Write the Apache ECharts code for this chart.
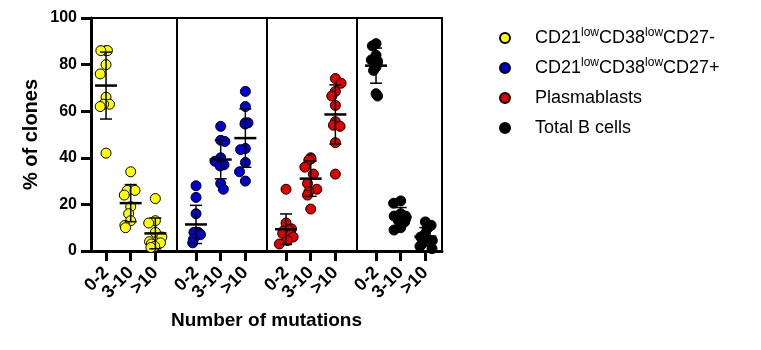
<!DOCTYPE html>
<html>
<head>
<meta charset="utf-8">
<script src="https://cdn.jsdelivr.net/npm/echarts@6/dist/echarts.min.js"></script>
<style>
html, body { margin: 0; padding: 0; background: #fff; }
#chart { width: 761px; height: 350px; }
</style>
</head>
<body>
<div id="chart"></div>
<script>
// categories
const mutationBins = ['0-2', '3-10', '>10'];
const populations = ['CD21lowCD38lowCD27-', 'CD21lowCD38lowCD27+', 'Plasmablasts', 'Total B cells'];
const popColors = ['#ffff00', '#0000d0', '#e00000', '#000000'];
const yTicks = [0, 20, 40, 60, 80, 100];

// % of clones, one array per mutation bin (0-2, 3-10, >10)
const cd27neg = [
  [86, 86, 86, 80, 76, 66, 63, 63, 62, 42],
  [34, 26.5, 26, 26, 24, 19, 16, 13, 11, 10],
  [22.5, 13, 12, 8, 6, 4, 3.5, 3, 2, 1.5]
];
const cd27pos = [
  [28, 23, 16, 8, 8, 8, 7.5, 7, 5, 3.5],
  [53.5, 47.5, 47, 40, 38.5, 37, 37, 36.5, 29, 26.5],
  [68.5, 62, 55, 55, 54.5, 44, 43.5, 38, 34, 30]
];
const plasmablasts = [
  [26.5, 12, 9.5, 9, 8.5, 7.5, 7, 6, 4.5, 3],
  [40, 39.5, 39, 36, 33, 29, 26.5, 25.5, 24, 18],
  [74, 72, 68.5, 66.5, 62.5, 55.5, 54, 53.5, 46.5, 33]
];
const totalB = [
  [89, 88, 84, 82, 81.5, 80.5, 79, 77.5, 67.5, 66.5],
  [21.5, 20.5, 16, 15, 15, 14, 13, 12.5, 10, 9],
  [12.5, 11, 9.5, 7.5, 6, 5, 4.5, 3, 2, 1]
];
const panels = [cd27neg, cd27pos, plasmablasts, totalB];

const font = 'Arial, "Liberation Sans", sans-serif';
const frameLeft = [91, 177, 267, 357];
const frameWidth = [86, 90, 90, 85];
const dataLeft = [93.7, 183.7, 273.7, 363.7];
const plotTop = 18, plotHeight = 233;

function meanSd(vals) {
  const m = vals.reduce((a, b) => a + b, 0) / vals.length;
  const v = vals.reduce((a, b) => a + (b - m) * (b - m), 0) / (vals.length - 1);
  return [m, Math.sqrt(v)];
}

function meanSdItem(params, api) {
  const x = api.value(0);
  const m = api.value(1), s = api.value(2);
  const c = api.coord([x, m]);
  const top = api.coord([x, m + s]);
  const bot = api.coord([x, m - s]);
  const thin = { stroke: '#000', lineWidth: 1.5 };
  return {
    type: 'group',
    children: [
      { type: 'line', shape: { x1: c[0], y1: top[1], x2: c[0], y2: bot[1] }, style: thin },
      { type: 'line', shape: { x1: c[0] - 6, y1: top[1], x2: c[0] + 6, y2: top[1] }, style: thin },
      { type: 'line', shape: { x1: c[0] - 6, y1: bot[1], x2: c[0] + 6, y2: bot[1] }, style: thin },
      { type: 'line', shape: { x1: c[0] - 11, y1: c[1], x2: c[0] + 11, y2: c[1] }, style: { stroke: '#000', lineWidth: 2.5 } }
    ]
  };
}

const grid = [{ left: 91, width: 351, top: plotTop, height: plotHeight }];
const xAxis = [{
  gridIndex: 0, type: 'value', min: 0, max: 1,
  axisLine: { show: true, lineStyle: { color: '#000', width: 3 } },
  axisTick: { show: false }, axisLabel: { show: false }, splitLine: { show: false },
  name: 'Number of mutations', nameLocation: 'middle', nameGap: 60,
  nameTextStyle: { fontFamily: font, fontWeight: 'bold', fontSize: 19, color: '#000' }
}];
const yAxis = [{
  gridIndex: 0, type: 'value', min: 0, max: 100, interval: 20,
  axisLine: { show: true, lineStyle: { color: '#000', width: 3 } },
  axisTick: { show: true, length: 10, lineStyle: { color: '#000', width: 3 } },
  axisLabel: { fontFamily: font, fontWeight: 'bold', fontSize: 16, color: '#000', margin: 14,
    customValues: yTicks },
  splitLine: { show: false },
  name: '% of clones', nameLocation: 'middle', nameGap: 50, nameRotate: 90,
  nameTextStyle: { fontFamily: font, fontWeight: 'bold', fontSize: 20, color: '#000' }
}];
const series = [];

// panel frames
for (let p = 0; p < 4; p++) {
  grid.push({ show: true, left: frameLeft[p], width: frameWidth[p], top: plotTop, height: plotHeight,
    borderColor: '#000', borderWidth: 2, backgroundColor: 'transparent' });
  xAxis.push({ gridIndex: p + 1, type: 'value', show: false });
  yAxis.push({ gridIndex: p + 1, type: 'value', show: false });
}

// data panels
for (let p = 0; p < 4; p++) {
  const gi = p + 5;
  grid.push({ left: dataLeft[p], width: 74, top: plotTop, height: plotHeight });
  xAxis.push({
    gridIndex: gi, type: 'category', data: mutationBins,
    jitter: 24, jitterOverlap: false, jitterMargin: 1,
    axisLine: { show: false },
    axisTick: { show: true, alignWithLabel: true, length: 10, lineStyle: { color: '#000', width: 3 } },
    axisLabel: { rotate: 45, margin: 19, fontFamily: font, fontWeight: 'bold', fontSize: 18, color: '#000', interval: 0 }
  });
  yAxis.push({ gridIndex: gi, type: 'value', min: 0, max: 100, show: false });

  const groups = panels[p];
  series.push({
    name: populations[p], type: 'scatter', xAxisIndex: gi, yAxisIndex: gi,
    symbol: 'circle', symbolSize: 10,
    itemStyle: { color: popColors[p], borderColor: '#000', borderWidth: 1, opacity: 1 },
    data: groups.flatMap((vals, i) => vals.map(v => [i, v]))
  });
  series.push({
    type: 'custom', xAxisIndex: gi, yAxisIndex: gi, z: 5, silent: true,
    renderItem: meanSdItem,
    data: groups.map((vals, i) => [i].concat(meanSd(vals)))
  });
}

const chart = echarts.init(document.getElementById('chart'), null, { renderer: 'canvas' });
chart.setOption({
  animation: false,
  backgroundColor: '#fff',
  grid: grid,
  xAxis: xAxis,
  yAxis: yAxis,
  legend: {
    orient: 'vertical', left: 494, top: 22,
    data: populations, icon: 'circle', itemWidth: 10, itemHeight: 10, itemGap: 8,
    formatter: name => name.replace(/low/g, '{s|low}'),
    textStyle: {
      fontFamily: font, fontSize: 18, color: '#000', lineHeight: 22, padding: [0, 0, 0, 20],
      rich: { s: { fontFamily: font, fontSize: 12, color: '#000', verticalAlign: 'top', lineHeight: 22 } }
    }
  },
  series: series
});
</script>
</body>
</html>
